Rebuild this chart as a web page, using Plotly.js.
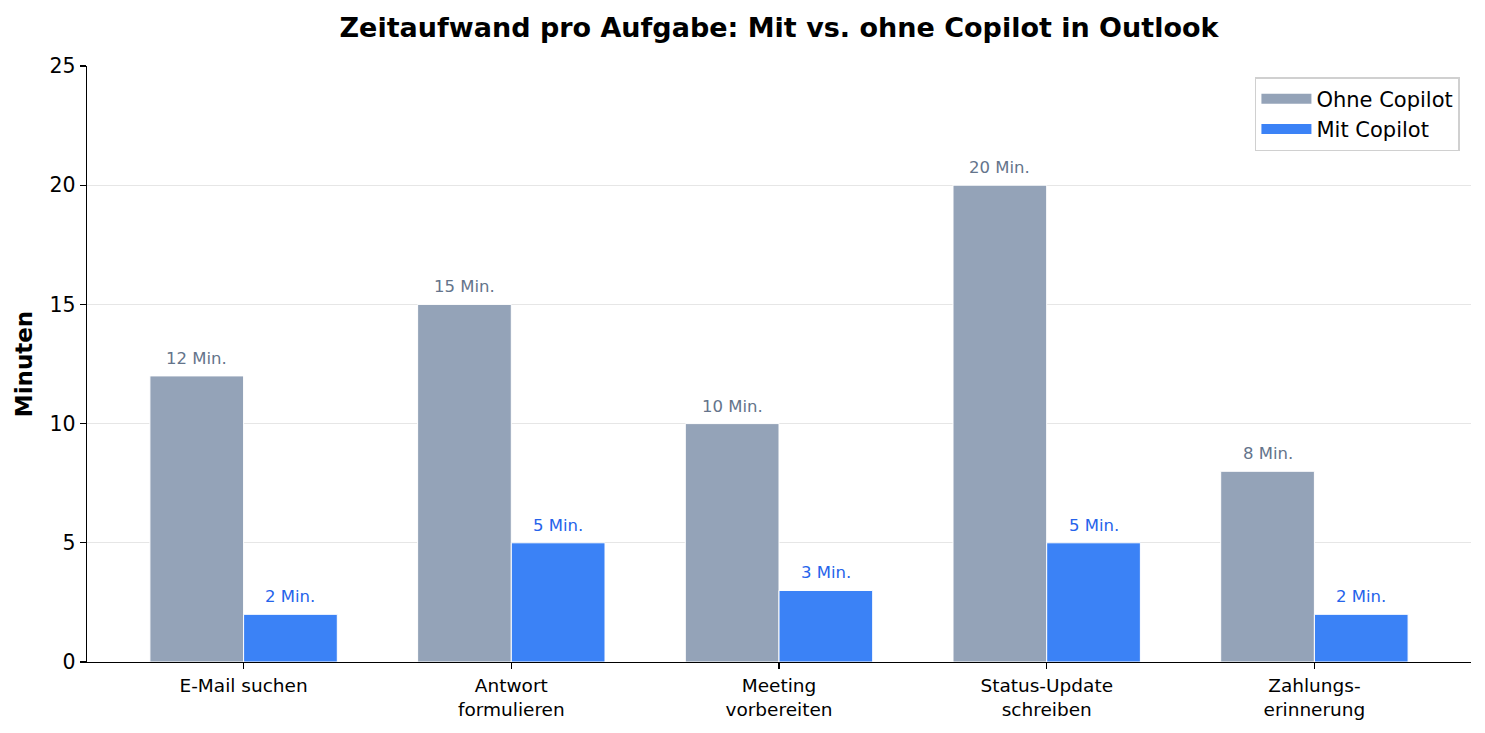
<!DOCTYPE html>
<html><head><meta charset="utf-8">
<script src="https://cdn.plot.ly/plotly-3.0.1.min.js"></script>
<style>body{margin:0;padding:0;background:#fff}#chart{width:1485px;height:733px}</style>
</head><body><div id="chart"></div>
<script>
const categories = ["E-Mail suchen", "Antwort<br>formulieren", "Meeting<br>vorbereiten", "Status-Update<br>schreiben", "Zahlungs-<br>erinnerung"];
const ohneCopilot = [12, 15, 10, 20, 8];
const mitCopilot = [2, 5, 3, 5, 2];
const seriesNames = ["Ohne Copilot", "Mit Copilot"];
const seriesColors = ["#94a3b8", "#3b82f6"];
const labelColors = ["#64748b", "#2563eb"];
const yTicks = [0, 5, 10, 15, 20, 25];

const font = "DejaVu Sans, sans-serif";
const xIdx = categories.map((c, i) => i);

const traces = [
  {type: "bar", name: seriesNames[0], x: xIdx, y: ohneCopilot, width: 0.35, offset: -0.35, showlegend: false,
   marker: {color: seriesColors[0], line: {color: "#ffffff", width: 1}}, hoverinfo: "skip"},
  {type: "bar", name: seriesNames[1], x: xIdx, y: mitCopilot, width: 0.35, offset: 0, showlegend: false,
   marker: {color: seriesColors[1], line: {color: "#ffffff", width: 1}}, hoverinfo: "skip"},
  {type: "scatter", mode: "lines", name: seriesNames[0], x: [null], y: [null], line: {color: seriesColors[0], width: 14}, hoverinfo: "skip"},
  {type: "scatter", mode: "lines", name: seriesNames[1], x: [null], y: [null], line: {color: seriesColors[1], width: 14}, hoverinfo: "skip"}
];

const annotations = [];
ohneCopilot.forEach((v, i) => annotations.push({x: i - 0.175, y: v, xref: "x", yref: "y", text: v + " Min.", showarrow: false, yanchor: "bottom", yshift: 6, font: {family: font, size: 16.5, color: labelColors[0]}}));
mitCopilot.forEach((v, i) => annotations.push({x: i + 0.175, y: v, xref: "x", yref: "y", text: v + " Min.", showarrow: false, yanchor: "bottom", yshift: 6, font: {family: font, size: 16.5, color: labelColors[1]}}));

const layout = {
  width: 1485, height: 733,
  margin: {l: 87, r: 14, t: 66, b: 71},
  paper_bgcolor: "#ffffff", plot_bgcolor: "#ffffff",
  font: {family: font, color: "#000"},
  title: {text: "<b>Zeitaufwand pro Aufgabe: Mit vs. ohne Copilot in Outlook</b>", x: 0.5246, xanchor: "center", y: 0.963, yanchor: "middle", font: {family: font, size: 27, color: "#000"}},
  xaxis: {range: [-0.585, 4.585], tickmode: "array", tickvals: xIdx, ticktext: categories,
    showgrid: false, zeroline: false, showline: true, linecolor: "#000", linewidth: 1.3,
    ticks: "outside", ticklen: 6, tickwidth: 1.3, tickcolor: "#000",
    tickfont: {family: font, size: 18.5, color: "#000"}},
  yaxis: {range: [0, 25], tickmode: "array", tickvals: yTicks, ticktext: yTicks.map(String),
    showgrid: true, gridcolor: "#e6e6e6", gridwidth: 1.3, zeroline: false,
    showline: true, linecolor: "#000", linewidth: 1.3,
    ticks: "outside", ticklen: 6, tickwidth: 1.3, tickcolor: "#000",
    tickfont: {family: font, size: 20.5, color: "#000"},
    title: {text: "<b>Minuten</b>", font: {family: font, size: 23, color: "#000"}, standoff: 10}},
  legend: {x: 0.992, xanchor: "right", y: 0.9815, yanchor: "top", bgcolor: "rgba(255,255,255,0.8)",
    bordercolor: "#d0d0d0", borderwidth: 1.5, font: {family: font, size: 21, color: "#000"}, traceorder: "normal",
    itemwidth: 50},
  annotations: annotations,
  showlegend: true,
  bargap: 0
};

Plotly.newPlot("chart", traces, layout, {displayModeBar: false, staticPlot: true});
</script></body></html>
